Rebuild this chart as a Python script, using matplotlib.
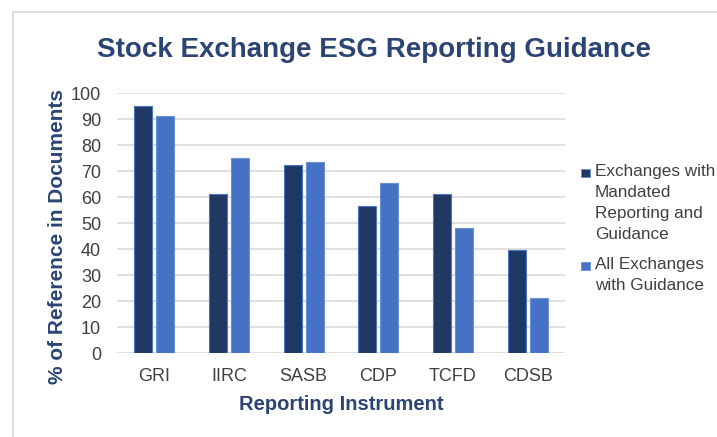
import numpy as np
import matplotlib
matplotlib.use("Agg")
import matplotlib.pyplot as plt
from matplotlib.patches import Rectangle

plt.rcParams['font.family'] = ['Liberation Sans', 'DejaVu Sans']

instruments = ['GRI', 'IIRC', 'SASB', 'CDP', 'TCFD', 'CDSB']
mandated = [95, 61, 72.5, 56.5, 61, 39.5]
all_guidance = [91, 75, 73.5, 65.5, 48, 21]
series_names = ['Exchanges with\nMandated\nReporting and\nGuidance',
                'All Exchanges\nwith Guidance']

dark = '#203864'
light = '#4472c4'
title_col = '#2b4474'

fig = plt.figure(figsize=(7.17, 4.37), dpi=100)
ax = fig.add_axes([117/717, 1-353/437, 448/717, 260/437])

x = np.arange(len(instruments))
w = 0.24
ax.bar(x - 0.147, mandated, w, color=dark, edgecolor='#4a74c0', linewidth=0.8, zorder=3)
ax.bar(x + 0.147, all_guidance, w, color=light, edgecolor='#6a90d4', linewidth=0.8, zorder=3)

ax.set_xlim(-0.5, len(instruments) - 0.5)
ax.set_ylim(0, 100)
ax.set_yticks(range(0, 101, 10))
ax.set_xticks(x)
ax.set_xticklabels(instruments)
ax.grid(axis='y', color='#d9d9d9', linewidth=1.2, zorder=0)
for s in ax.spines.values():
    s.set_visible(False)
ax.tick_params(length=0, labelsize=13, labelcolor='#404040')
ax.tick_params(axis='y', pad=11.5)
ax.tick_params(axis='x', pad=11)

ax.set_ylabel('% of Reference in Documents', fontsize=15, fontweight='bold', color=title_col)
ax.yaxis.set_label_coords(-0.112, 0.45)
ax.set_xlabel('Reporting Instrument', fontsize=14.5, fontweight='bold', color=title_col)
ax.xaxis.set_label_coords(0.5, -0.16)

fig.text(374/717, 1-50/437, 'Stock Exchange ESG Reporting Guidance', ha='center', va='center',
         fontsize=20, fontweight='bold', color=title_col)

# legend drawn by hand so the key sits on the first line
for name, col, ytop in zip(series_names, [dark, light], [164, 257]):
    fig.text(595/717, 1-ytop/437, name, ha='left', va='top', fontsize=12.3,
             color='#404040', linespacing=1.5)
    fig.add_artist(Rectangle((581/717, 1-(ytop+13)/437), 9/717, 8/437, facecolor=col,
                             edgecolor='#6a90d4', linewidth=0.6, transform=fig.transFigure))

# chart frame
fig.add_artist(Rectangle((12.5/717, -0.1), 1.2, (437-12.5)/437 + 0.1, fill=False,
                         edgecolor='#d9d9d9', linewidth=1.3, transform=fig.transFigure))

fig.savefig('out.png', dpi=100)
